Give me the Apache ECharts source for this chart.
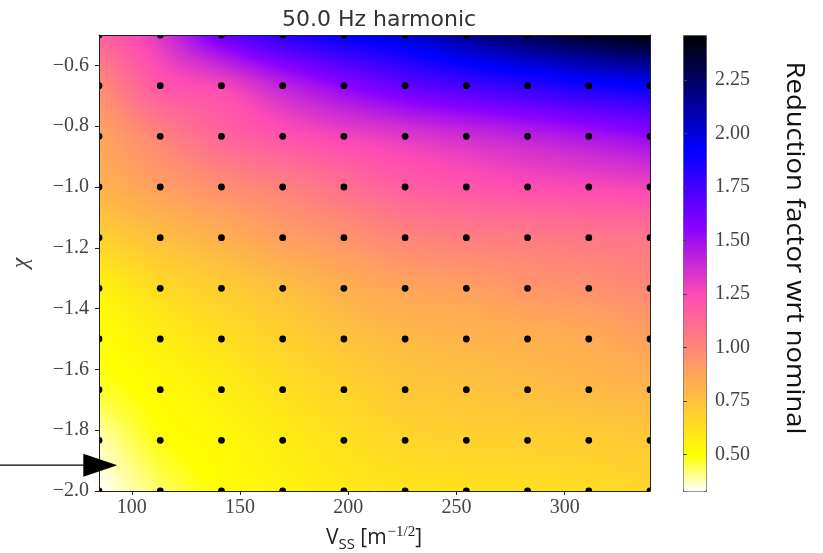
<!DOCTYPE html>
<html><head><meta charset="utf-8">
<script src="https://cdn.jsdelivr.net/npm/echarts@6/dist/echarts.min.js"></script>
<style>html,body{margin:0;padding:0;background:#fff}#c{width:823px;height:553px}</style>
</head><body><div id="c"></div>
<script>
// ---- data ----
const vssValues = [84.85, 113.14, 141.42, 169.71, 197.99, 226.27, 254.56, 282.84, 311.13, 339.41];
const chiValues = [-2.0, -1.8333, -1.6667, -1.5, -1.3333, -1.1667, -1.0, -0.8333, -0.6667, -0.5];
// one array per chi row (bottom row chi=-2.0 first), values along Vss
const reductionChiM200 = [0.33, 0.43, 0.51, 0.55, 0.59, 0.61, 0.62, 0.63, 0.65, 0.67];
const reductionChiM183 = [0.38, 0.49, 0.53, 0.58, 0.63, 0.67, 0.69, 0.70, 0.71, 0.73];
const reductionChiM167 = [0.47, 0.52, 0.57, 0.63, 0.68, 0.73, 0.75, 0.77, 0.79, 0.81];
const reductionChiM150 = [0.50, 0.57, 0.63, 0.69, 0.75, 0.79, 0.81, 0.83, 0.85, 0.90];
const reductionChiM133 = [0.55, 0.65, 0.71, 0.77, 0.83, 0.88, 0.90, 0.94, 0.96, 1.00];
const reductionChiM117 = [0.69, 0.77, 0.83, 0.90, 0.95, 1.01, 1.04, 1.05, 1.07, 1.08];
const reductionChiM100 = [0.82, 0.90, 0.97, 1.03, 1.10, 1.17, 1.21, 1.24, 1.26, 1.28];
const reductionChiM083 = [0.88, 1.02, 1.14, 1.22, 1.28, 1.33, 1.38, 1.43, 1.48, 1.54];
const reductionChiM067 = [0.98, 1.20, 1.27, 1.42, 1.55, 1.66, 1.74, 1.81, 1.88, 1.93];
const reductionChiM050 = [1.15, 1.34, 1.63, 1.82, 1.93, 2.02, 2.16, 2.28, 2.38, 2.46];
const reductionRows = [reductionChiM200, reductionChiM183, reductionChiM167, reductionChiM150, reductionChiM133,
  reductionChiM117, reductionChiM100, reductionChiM083, reductionChiM067, reductionChiM050];
const xTickValues = [100, 150, 200, 250, 300];
const yTickValues = [-2.0, -1.8, -1.6, -1.4, -1.2, -1.0, -0.8, -0.6];
const cbTickValues = [0.5, 0.75, 1.0, 1.25, 1.5, 1.75, 2.0, 2.25];
const titleText = '50.0 Hz harmonic';
const colorbarLabel = 'Reduction factor wrt nominal';
const yLabel = '\u03c7';
const arrowTip = [93.3, -1.915];

// ---- colormap: gnuplot2 reversed ----
let allVals = [];
reductionRows.forEach(r => allVals = allVals.concat(r));
const vmin = Math.min.apply(null, allVals), vmax = Math.max.apply(null, allVals);
function clip01(a) { return a < 0 ? 0 : (a > 1 ? 1 : a); }
function gnuplot2(t) {
  const r = clip01(t / 0.32 - 0.78125);
  const g = clip01(2 * t - 0.84);
  const b = clip01(t < 0.25 ? 4 * t : (t < 0.92 ? -2 * t + 1.84 : t / 0.08 - 11.5));
  return [Math.round(r * 255), Math.round(g * 255), Math.round(b * 255)];
}
function cmap(v) { return gnuplot2(1 - clip01((v - vmin) / (vmax - vmin))); }
const stops = [];
for (let i = 0; i <= 64; i++) { const c = cmap(vmin + (vmax - vmin) * i / 64); stops.push('rgb(' + c.join(',') + ')'); }

// ---- cells between nodes (shaded with bicubic smoothing of the node values) ----
const cells = [];
for (let r = 0; r < chiValues.length - 1; r++) {
  for (let c = 0; c < vssValues.length - 1; c++) {
    cells.push([vssValues[c], chiValues[r], vssValues[c + 1], chiValues[r + 1], r, c]);
  }
}
const nodes = [];
chiValues.forEach((y, r) => vssValues.forEach((x, c) => nodes.push([x, y, reductionRows[r][c]])));

function nodeVal(r, c) {
  const nr = reductionRows.length, nc = reductionRows[0].length;
  // linear extrapolation beyond edges
  if (r < 0) return 2 * nodeVal(0, c) - nodeVal(1, c);
  if (r >= nr) return 2 * nodeVal(nr - 1, c) - nodeVal(nr - 2, c);
  if (c < 0) return 2 * nodeVal(r, 0) - nodeVal(r, 1);
  if (c >= nc) return 2 * nodeVal(r, nc - 1) - nodeVal(r, nc - 2);
  return reductionRows[r][c];
}
function cr(p0, p1, p2, p3, t) {
  return p1 + 0.5 * t * (p2 - p0 + t * (2 * p0 - 5 * p1 + 4 * p2 - p3 + t * (3 * (p1 - p2) + p3 - p0)));
}
function renderCell(params, api) {
  const x0 = api.value(0), y0 = api.value(1), x1 = api.value(2), y1 = api.value(3);
  const r = api.value(4), c = api.value(5);
  const pA = api.coord([x0, y1]), pB = api.coord([x1, y0]);
  const L = Math.round(pA[0]), T = Math.round(pA[1]), R = Math.round(pB[0]), B = Math.round(pB[1]);
  const w = Math.max(1, R - L), h = Math.max(1, B - T);
  const P = [];
  for (let a = -1; a <= 2; a++) { const row = []; for (let b = -1; b <= 2; b++) row.push(nodeVal(r + a, c + b)); P.push(row); }
  const cv = document.createElement('canvas'); cv.width = w; cv.height = h;
  const ctx = cv.getContext('2d'); const img = ctx.createImageData(w, h);
  for (let j = 0; j < h; j++) {
    const fy = 1 - (j + 0.5) / h;
    for (let i = 0; i < w; i++) {
      const fx = (i + 0.5) / w;
      const v = cr(cr(P[0][0], P[0][1], P[0][2], P[0][3], fx), cr(P[1][0], P[1][1], P[1][2], P[1][3], fx),
                   cr(P[2][0], P[2][1], P[2][2], P[2][3], fx), cr(P[3][0], P[3][1], P[3][2], P[3][3], fx), fy);
      const col = cmap(v); const k = (j * w + i) * 4;
      img.data[k] = col[0]; img.data[k + 1] = col[1]; img.data[k + 2] = col[2]; img.data[k + 3] = 255;
    }
  }
  ctx.putImageData(img, 0, 0);
  return { type: 'image', style: { image: cv, x: L, y: T, width: w, height: h } };
}
function renderDot(params, api) {
  const p = api.coord([api.value(0), api.value(1)]);
  return { type: 'circle', shape: { cx: p[0], cy: p[1], r: 3.4 }, style: { fill: '#000' } };
}

function fmtNum(v, d) { return (v < 0 ? '\u2212' : '') + Math.abs(v).toFixed(d); }
const tickFont = { fontFamily: 'Liberation Serif', fontSize: 20, color: '#444' };
const lineCol = '#222';

const chart = echarts.init(document.getElementById('c'));
const GL = 99, GT = 35, GR = 173, GB = 62;
chart.setOption({
  animation: false,
  backgroundColor: '#fff',
  title: { text: titleText, left: 374, top: 4, textAlign: 'center',
    textStyle: { fontFamily: 'DejaVu Sans', fontSize: 22, fontWeight: 'normal', color: '#333' } },
  grid: [
    { left: GL, top: GT, right: GR, bottom: GB },
    { left: 683, top: 35, width: 23, height: 456 }
  ],
  xAxis: [
    { type: 'value', gridIndex: 0, min: vssValues[0], max: vssValues[vssValues.length - 1], z: 10,
      axisLine: { show: true, onZero: false, lineStyle: { color: lineCol, width: 1 } },
      axisTick: { show: true, inside: false, length: 4, customValues: xTickValues, lineStyle: { color: lineCol } },
      axisLabel: Object.assign({ margin: 7, customValues: xTickValues, formatter: v => fmtNum(v, 0) }, tickFont),
      splitLine: { show: false } },
    { type: 'value', gridIndex: 0, position: 'top', min: vssValues[0], max: vssValues[vssValues.length - 1], z: 10,
      axisLine: { show: true, onZero: false, lineStyle: { color: lineCol, width: 1 } },
      axisTick: { show: false }, axisLabel: { show: false }, splitLine: { show: false } },
    { type: 'value', gridIndex: 1, min: 0, max: 1, show: false }
  ],
  yAxis: [
    { type: 'value', gridIndex: 0, min: chiValues[0], max: chiValues[chiValues.length - 1], z: 10,
      name: yLabel, nameLocation: 'middle', nameGap: 66, nameRotate: 90,
      nameTextStyle: { fontFamily: 'Liberation Serif', fontStyle: 'italic', fontSize: 24, color: '#444' },
      axisLine: { show: true, onZero: false, lineStyle: { color: lineCol, width: 1 } },
      axisTick: { show: true, inside: false, length: 4, customValues: yTickValues, lineStyle: { color: lineCol } },
      axisLabel: Object.assign({ margin: 10, customValues: yTickValues, formatter: v => fmtNum(v, 1) }, tickFont),
      splitLine: { show: false } },
    { type: 'value', gridIndex: 0, position: 'right', min: chiValues[0], max: chiValues[chiValues.length - 1], z: 10,
      axisLine: { show: true, onZero: false, lineStyle: { color: lineCol, width: 1 } },
      axisTick: { show: false }, axisLabel: { show: false }, splitLine: { show: false } },
    { type: 'value', gridIndex: 1, position: 'right', min: vmin, max: vmax, z: 10,
      axisLine: { show: false },
      axisTick: { show: true, inside: false, length: 4, customValues: cbTickValues, lineStyle: { color: '#444' } },
      axisLabel: Object.assign({ margin: 9, customValues: cbTickValues, formatter: v => v.toFixed(2) }, tickFont),
      splitLine: { show: false } }
  ],
  visualMap: {
    type: 'continuous', seriesIndex: [], min: vmin, max: vmax, calculable: false, hoverLink: false,
    orient: 'vertical', left: 683, top: 35, itemWidth: 23, itemHeight: 456, padding: 0,
    text: null, showLabel: false, borderColor: '#555', borderWidth: 1,
    inRange: { color: stops }
  },
  series: [
    { type: 'custom', xAxisIndex: 0, yAxisIndex: 0, renderItem: renderCell, data: cells,
      encode: { x: [0, 2], y: [1, 3] }, silent: true, z: 1 },
    { type: 'custom', xAxisIndex: 0, yAxisIndex: 0, renderItem: renderDot, data: nodes, clip: true,
      encode: { x: 0, y: 1 }, silent: true, z: 3 }
  ]
});

// annotations: labels and arrow
function measure(text, font) {
  const c = document.createElement('canvas').getContext('2d'); c.font = font; return c.measureText(text).width;
}
const cbFontSize = 25;
const cbW = measure(colorbarLabel, cbFontSize + 'px "Open Sans"');
const cbScale = 373 / cbW;
const tip = chart.convertToPixel({ gridIndex: 0 }, arrowTip);
chart.setOption({
  graphic: [
    { type: 'text', x: 794, y: 248, rotation: -Math.PI / 2, scaleX: cbScale, scaleY: 1, z: 20,
      style: { text: colorbarLabel, x: 0, y: 0, align: 'center', verticalAlign: 'middle',
        textAlign: 'center', textVerticalAlign: 'middle',
        fontFamily: 'Open Sans', fontSize: cbFontSize, fill: '#111' } },
    { type: 'text', x: 374, y: 538, z: 20,
      style: { text: '{m|V}{s|SS}{m| [m}{p|\u22121/2}{m|]}', x: 0, y: 0, align: 'center', verticalAlign: 'middle',
        textAlign: 'center', textVerticalAlign: 'middle',
        rich: {
          m: { fontFamily: 'Open Sans', fontSize: 21, fill: '#222', color: '#222', lineHeight: 30, verticalAlign: 'middle' },
          s: { fontFamily: 'Open Sans', fontSize: 15, fill: '#222', color: '#222', lineHeight: 30, verticalAlign: 'bottom', padding: [0, 0, 1, 0] },
          p: { fontFamily: 'Liberation Serif', fontSize: 15, fill: '#222', color: '#222', lineHeight: 30, verticalAlign: 'top', padding: [2, 0, 0, 1] }
        } } },
    { type: 'line', z: 20, shape: { x1: 0, y1: tip[1], x2: tip[0] - 30, y2: tip[1] },
      style: { stroke: '#000', lineWidth: 1.2 } },
    { type: 'polygon', z: 20, shape: { points: [[tip[0] - 34, tip[1] - 11.5], [tip[0], tip[1]], [tip[0] - 34, tip[1] + 11.5]] },
      style: { fill: '#000' } }
  ]
});
</script></body></html>
